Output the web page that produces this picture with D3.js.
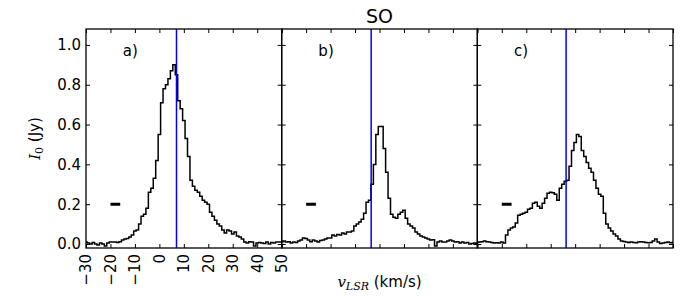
<!DOCTYPE html>
<html>
<head>
<meta charset="utf-8">
<script src="https://cdn.jsdelivr.net/npm/d3@7"></script>
<style>
  body { margin: 0; background: #fff; }
  text { font-family: "DejaVu Sans", sans-serif; fill: #000; }
</style>
</head>
<body>
<div class="chart"></div>
<script>
// Data (velocity channels from -30 to 50 km/s, 1 km/s apart)
const velocities = d3.range(-30, 51, 1);

const fluxA = [
  0.01, 0.005, 0.0, 0.008, 0.0, -0.005, 0.005, 0.0, -0.01, 0.005,
  0.01, 0.01, 0.01, 0.008, 0.012, 0.02, 0.025, 0.028, 0.035, 0.045,
  0.065, 0.07, 0.1, 0.14, 0.15, 0.18, 0.26, 0.28, 0.33, 0.42,
  0.55, 0.71, 0.78, 0.8, 0.83, 0.87, 0.9, 0.85, 0.72, 0.68,
  0.62, 0.53, 0.44, 0.32, 0.29, 0.27, 0.26, 0.24, 0.22, 0.21,
  0.2, 0.16, 0.14, 0.12, 0.1, 0.09, 0.07, 0.055, 0.07, 0.065,
  0.05, 0.06, 0.04, 0.035, 0.025, 0.01, 0.005, 0.012, 0.01, -0.01,
  0.005, 0.008, 0.005, 0.002, 0.01, 0.0, 0.008, 0.005, 0.01, 0.01,
  0.01
];

const fluxB = [
  0.01, 0.015, 0.01, 0.012, 0.005, 0.01, 0.008, 0.015, 0.02, 0.03,
  0.028, 0.02, 0.012, 0.02, 0.015, 0.01, 0.018, 0.02, 0.025, 0.03,
  0.03, 0.045, 0.04, 0.048, 0.045, 0.055, 0.05, 0.06, 0.06, 0.065,
  0.09, 0.1, 0.11, 0.125, 0.155, 0.21, 0.22, 0.3, 0.4, 0.55,
  0.59, 0.59, 0.48, 0.36, 0.23, 0.15, 0.135, 0.13, 0.15, 0.16,
  0.17, 0.13, 0.1, 0.09, 0.08, 0.06, 0.05, 0.04, 0.035, 0.03,
  0.025, 0.02, 0.022, -0.01, 0.01, 0.015, 0.01, 0.01, 0.015, 0.02,
  0.015, 0.01, 0.012, 0.005, 0.01, 0.005, 0.008, 0.0, 0.002, 0.005,
  0.0
];

const fluxC = [
  0.008, 0.01, 0.012, 0.015, 0.012, 0.01, 0.008, 0.005, 0.006, 0.005,
  0.01, 0.005, 0.045, 0.07, 0.08, 0.085, 0.105, 0.145, 0.15, 0.155,
  0.16, 0.175, 0.18, 0.205, 0.21, 0.19, 0.18, 0.205, 0.23, 0.255,
  0.26, 0.258, 0.25, 0.22, 0.28, 0.3, 0.315, 0.32, 0.39, 0.47,
  0.51, 0.55, 0.54, 0.47, 0.44, 0.41, 0.38, 0.36, 0.32, 0.28,
  0.25, 0.24, 0.155, 0.1, 0.08, 0.065, 0.05, 0.04, 0.025, 0.015,
  0.013, 0.01, 0.008, 0.01, 0.008, 0.006, 0.01, 0.012, 0.01, 0.008,
  0.006, 0.008, 0.015, 0.025, 0.01, 0.002, 0.005, 0.008, 0.01, 0.006,
  0.008
];

const panelNames = ['a)', 'b)', 'c)'];
const panelFlux = [fluxA, fluxB, fluxC];
const systemicVel = [7, 6.6, 6.3];   // blue vertical lines
const barRange = [-20, -16];         // small black bar
const barLevel = 0.2;

const xTicks = [-30, -20, -10, 0, 10, 20, 30, 40, 50];
const yTicks = [0.0, 0.2, 0.4, 0.6, 0.8, 1.0];

// Layout
const W = 700, H = 300;
const margin = { top: 29, right: 27, bottom: 52, left: 86 };
const plotW = W - margin.left - margin.right;
const panelW = plotW / 3;
const plotH = H - margin.top - margin.bottom;

const svg = d3.select('.chart')
  .append('svg')
  .attr('width', W)
  .attr('height', H);

// Scales
const x = d3.scaleLinear().domain([-30, 50]).range([0, panelW]);
const y = d3.scaleLinear().domain([-0.02, 1.08]).range([plotH, 0]);

const line = d3.line()
  .x((d, i) => x(velocities[i]))
  .y(d => y(d))
  .curve(d3.curveStep);

svg.append('defs').append('clipPath')
  .attr('id', 'clip')
  .append('rect')
  .attr('width', panelW)
  .attr('height', plotH);

panelFlux.forEach((flux, p) => {
  const g = svg.append('g')
    .attr('transform', `translate(${margin.left + p * panelW},${margin.top})`);

  const inner = g.append('g').attr('clip-path', 'url(#clip)');

  // Spectrum
  inner.append('path')
    .datum(flux)
    .attr('fill', 'none')
    .attr('stroke', '#000')
    .attr('stroke-width', 1.5)
    .attr('d', line);

  // Systemic velocity
  inner.append('line')
    .attr('x1', x(systemicVel[p])).attr('x2', x(systemicVel[p]))
    .attr('y1', 0).attr('y2', plotH)
    .attr('stroke', '#0000ff')
    .attr('stroke-width', 1.5);

  // Small bar
  inner.append('line')
    .attr('x1', x(barRange[0])).attr('x2', x(barRange[1]))
    .attr('y1', y(barLevel)).attr('y2', y(barLevel))
    .attr('stroke', '#000')
    .attr('stroke-width', 3);

  // Axes (inward ticks on all sides)
  const bottom = g.append('g')
    .attr('transform', `translate(0,${plotH})`)
    .call(d3.axisBottom(x).tickValues(xTicks).tickSizeInner(-4).tickSizeOuter(0)
      .tickPadding(6).tickFormat(d => d3.format('d')(d).replace('-', '\u2212')));
  if (p === 0) {
    bottom.selectAll('.tick text')
      .attr('font-size', 15)
      .attr('transform', 'rotate(-90)')
      .attr('text-anchor', 'end')
      .attr('dy', '0.32em')
      .attr('x', -6)
      .attr('y', 0);
  } else {
    bottom.selectAll('.tick text').remove();
  }

  g.append('g')
    .call(d3.axisTop(x).tickValues(xTicks).tickSizeInner(-4).tickSizeOuter(0).tickFormat(''));

  const left = g.append('g')
    .call(d3.axisLeft(y).tickValues(yTicks).tickSizeInner(-4).tickSizeOuter(0)
      .tickPadding(5).tickFormat(d3.format('.1f')));
  if (p === 0) {
    left.selectAll('.tick text').attr('font-size', 15);
  } else {
    left.selectAll('.tick text').remove();
  }

  g.append('g')
    .attr('transform', `translate(${panelW},0)`)
    .call(d3.axisRight(y).tickValues(yTicks).tickSizeInner(-4).tickSizeOuter(0).tickFormat(''));

  g.selectAll('.domain').remove();
  g.selectAll('.tick line').attr('stroke', '#000').attr('stroke-width', 1);

  // Frame
  g.append('rect')
    .attr('width', panelW)
    .attr('height', plotH)
    .attr('fill', 'none')
    .attr('stroke', '#000')
    .attr('stroke-width', 1.3);

  // Panel label
  g.append('text')
    .attr('x', x(-15))
    .attr('y', y(0.945))
    .attr('font-size', 15)
    .text(panelNames[p]);
});

// Title
svg.append('text')
  .attr('x', margin.left + plotW / 2)
  .attr('y', 23)
  .attr('text-anchor', 'middle')
  .attr('font-size', 19)
  .text('SO');

// X label
const xl = svg.append('text')
  .attr('x', margin.left + plotW / 2)
  .attr('y', 287)
  .attr('text-anchor', 'middle')
  .attr('font-size', 15);
xl.append('tspan').attr('font-family', 'DejaVu Serif').attr('font-style', 'italic').text('v');
xl.append('tspan').attr('font-family', 'DejaVu Serif').attr('font-style', 'italic')
  .attr('font-size', 11).attr('dy', 3).text('LSR');
xl.append('tspan').attr('dy', -3).text(' (km/s)');

// Y label
const yl = svg.append('text')
  .attr('transform', `translate(40,${margin.top + plotH / 2}) rotate(-90)`)
  .attr('text-anchor', 'middle')
  .attr('font-size', 15);
yl.append('tspan').attr('font-family', 'DejaVu Serif').attr('font-style', 'italic').text('I');
yl.append('tspan').attr('font-family', 'DejaVu Serif')
  .attr('font-size', 11).attr('dy', 3).text('0');
yl.append('tspan').attr('dy', -3).text(' (Jy)');
</script>
</body>
</html>
